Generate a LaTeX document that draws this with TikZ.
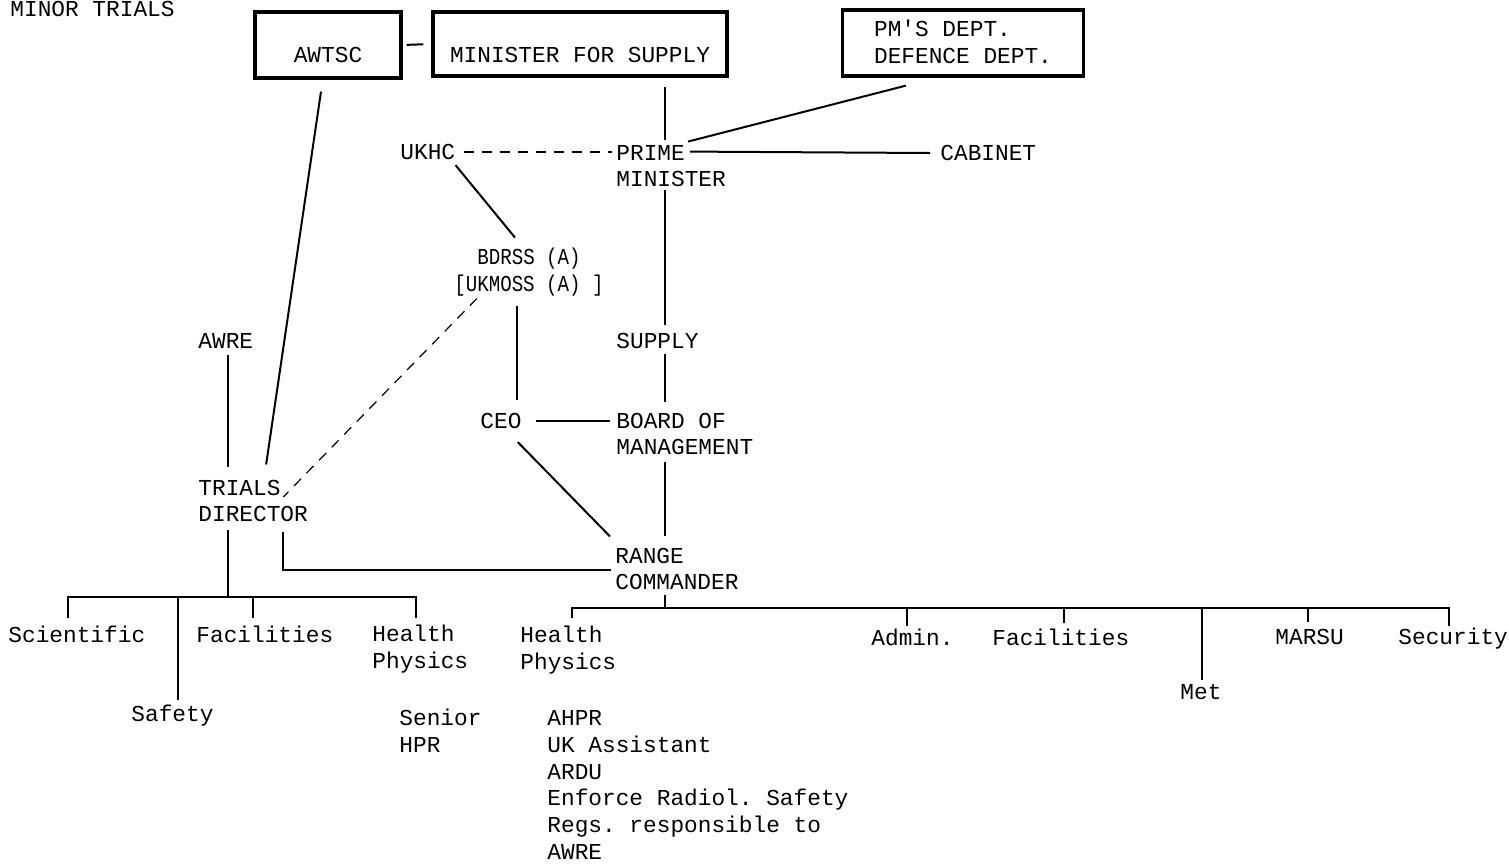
\documentclass[tikz,border=0pt]{standalone}
\usepackage{fontspec}
\usepackage{graphicx}
\newfontfamily\labfont{Liberation Mono}
\usetikzlibrary{calc}
\frenchspacing
\begin{document}
\begin{tikzpicture}[x=0.5pt,y=-0.5pt,
  lbl/.style={font={\labfont\fontsize{11.4}{13.4}\selectfont\frenchspacing}, inner sep=0pt, anchor=west, align=left},
  bigbox/.style={draw, line width=1.6pt, inner sep=0pt, font={\labfont\fontsize{11.4}{13.4}\selectfont}, align=left},
  conn/.style={line width=1pt},
  dashA/.style={line width=0.8pt, dash pattern=on 5pt off 4pt},
  dashB/.style={line width=0.6pt, dash pattern=on 5pt off 4pt}]
\useasboundingbox (0,0) rectangle (1509,863);
\fill[white] (0,0) rectangle (1509,863);

% title
\node[lbl, anchor=base west] (minor) at (10,16) {MINOR TRIALS};

% boxes
\node[bigbox, minimum width=73pt, minimum height=33pt] (awtsc) at (328,45) {\raisebox{-5pt}[\height][\depth]{AWTSC}};
\node[bigbox, minimum width=147pt, minimum height=32pt] (msup) at (580,44) {\raisebox{-5.5pt}[\height][\depth]{MINISTER FOR SUPPLY}};
\node[bigbox, minimum width=120.5pt, minimum height=33pt] (pmd) at (963,43) {\raisebox{-1pt}[\height][\depth]{\begin{tabular}{@{}l@{}}PM'S DEPT.\\DEFENCE DEPT.\end{tabular}}};

% upper labels
\node[lbl] (ukhc) at (400,152) {UKHC};
\node[lbl] (pm) at (616,166) {PRIME\\MINISTER};
\node[lbl] (cab) at (940,153) {CABINET};
\node[lbl, anchor=center, align=center] (bdr) at (529,272) {\scalebox{0.84}[1]{BDRSS (A)}\\\scalebox{0.84}[1]{[UKMOSS (A) ]}};
\node[lbl] (sup) at (616,341) {SUPPLY};
\node[lbl] (ceo) at (480,421) {CEO};
\node[lbl] (bom) at (616,434) {BOARD OF\\MANAGEMENT};
\node[lbl] (awre) at (198,341) {AWRE};
\node[lbl] (tri) at (198,501) {TRIALS\\DIRECTOR};
\node[lbl] (rc) at (615,569) {RANGE\\COMMANDER};

% lower labels
\node[lbl] (sci) at (8,634) {Scientific};
\node[lbl] (fac1) at (196,634) {Facilities};
\node[lbl] (hp1) at (372,649) {Health\\Physics};
\node[lbl] (saf) at (131,716) {Safety};
\node[lbl] (sen) at (399,731) {Senior\\HPR};
\node[lbl] (hp2) at (520,650) {Health\\Physics};
\node[lbl] (ahpr) at (547,785) {AHPR\\UK Assistant\\ARDU\\Enforce Radiol. Safety\\Regs. responsible to\\AWRE};
\node[lbl] (adm) at (871,637) {Admin.};
\node[lbl] (fac2) at (992,637) {Facilities};
\node[lbl] (met) at (1180,692) {Met};
\node[lbl] (mar) at (1275,637) {MARSU};
\node[lbl] (sec) at (1398,639) {Security};

% helper coordinates
\coordinate (sx) at (665,0);
\coordinate (cx) at (517,0);
\coordinate (ax) at (228,0);
\coordinate (tb) at (228,596);
\coordinate (rb) at (665,607);

% connectors (upper part)
\draw[conn, shorten <=2pt, shorten >=4pt] (awtsc.east) -- (msup.west);
\draw[conn, shorten <=4.5pt, shorten >=2.5pt] (sx |- msup.south) -- (sx |- pm.north);
\draw[conn] ($(pmd.south)+(-57,8)$) -- ($(pm.north west)+(72,-3)$);
\draw[dashA, shorten <=4pt, shorten >=2pt] (ukhc.east) -- (ukhc.east -| pm.west);
\draw[conn] ($(pm.north west)+(74,7)$) -- ($(cab.west)+(-10,0)$);
\draw[conn] ($(ukhc.south east)+(0,5)$) -- ($(bdr.north)+(-14,-10)$);
\draw[conn, shorten <=1.5pt, shorten >=4pt] (sx |- pm.south) -- (sx |- sup.north);
\draw[conn, shorten <=2.5pt, shorten >=5pt] (sx |- sup.south) -- (sx |- bom.north);
\draw[conn, shorten <=5pt, shorten >=6.5pt] (cx |- bdr.south) -- (cx |- ceo.north);
\draw[conn, shorten <=7pt, shorten >=3pt] (ceo.east) -- (ceo.east -| bom.west);
\draw[conn] ($(ceo.south east)+(-4,13)$) -- ($(rc.north west)+(-5,-11)$);
\draw[conn, shorten <=3pt, shorten >=5.5pt] (sx |- bom.south) -- (sx |- rc.north);
\draw[conn, shorten <=3pt, shorten >=6pt] (ax |- awre.south) -- (ax |- tri.north);
\draw[conn] ($(awtsc.south)+(-7,12)$) -- ($(tri.north)+(13,-15)$);
\draw[dashB] ($(bdr.south west)+(23,2)$) -- ($(tri.east)+(-25,-4)$);
\draw[conn] ($(tri.south west)+(85,9)$) |- ($(rc.west)+(-4,1)$);

% trials director tree
\draw[conn, shorten <=3.5pt] (tb |- tri.south) -- (tb);
\draw[conn] ($(sci.north)+(-8.5,-7)$) |- ($(hp1.north)+(-4,-28)$) -- ($(hp1.north)+(-4,-7)$);
\draw[conn] ($(saf.north)+(6,-5)$) -- ($(saf.north)+(6,-109)$);
\draw[conn] ($(fac1.north)+(-12,-7)$) -- ($(fac1.north)+(-12,-28)$);

% range commander tree
\draw[conn, shorten <=2pt] (rb |- rc.south) -- (rb);
\draw[conn] ($(hp2.north)+(4,-8)$) |- ($(sec.north)+(-4,-20)$) -- ($(sec.north)+(-4,-2)$);
\draw[conn] ($(adm.north)+(-5,-2)$) -- ($(adm.north)+(-5,-20)$);
\draw[conn] ($(fac2.north)+(3,-5)$) -- ($(fac2.north)+(3,-20)$);
\draw[conn] ($(met.north)+(1.5,-4)$) -- ($(met.north)+(1.5,-76)$);
\draw[conn] ($(mar.north)+(-1.5,-7)$) -- ($(mar.north)+(-1.5,-22)$);
\end{tikzpicture}
\end{document}
